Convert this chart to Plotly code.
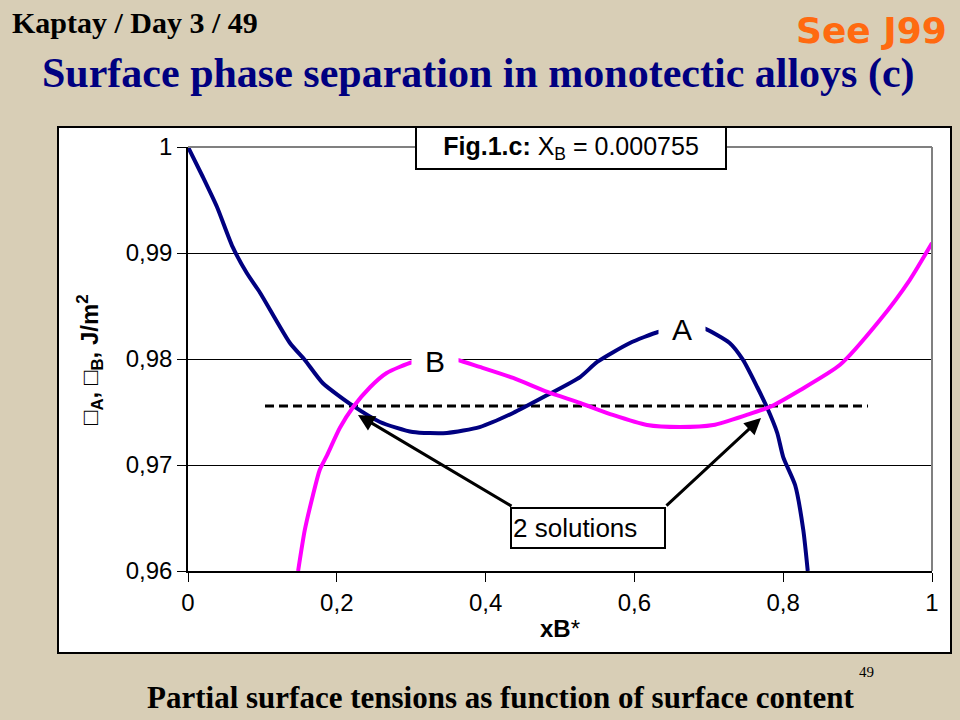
import plotly.graph_objects as go

# ---- data ----
xa = [0, 0.020, 0.039, 0.060, 0.079, 0.097, 0.137, 0.157, 0.181, 0.222, 0.258, 0.302,
      0.348, 0.392, 0.437, 0.483, 0.527, 0.550, 0.594, 0.632, 0.661, 0.692, 0.728,
      0.746, 0.765, 0.778, 0.792, 0.800, 0.816, 0.827, 0.833]
sigma_a = [1.0, 0.99717, 0.99434, 0.99057, 0.98811, 0.98623, 0.98151, 0.97991, 0.97774,
           0.97557, 0.97406, 0.97311, 0.97302, 0.97358, 0.97491, 0.97660, 0.97830,
           0.97972, 0.98151, 0.98255, 0.98292, 0.98292, 0.98151, 0.97991, 0.97736,
           0.97547, 0.97302, 0.97075, 0.96811, 0.96387, 0.96]

xb = [0.148, 0.157, 0.168, 0.177, 0.187, 0.204, 0.222, 0.245, 0.267, 0.302, 0.332, 0.362,
      0.392, 0.437, 0.483, 0.527, 0.571, 0.617, 0.661, 0.706, 0.751, 0.782, 0.823,
      0.876, 0.930, 0.970, 1.0]
sigma_b = [0.96, 0.96387, 0.96717, 0.96953, 0.97094, 0.97349, 0.97547, 0.97736, 0.97868,
           0.97972, 0.98009, 0.97991, 0.97925, 0.97821, 0.97689, 0.97585, 0.97472,
           0.97377, 0.97358, 0.97377, 0.97472, 0.97547, 0.97708, 0.97943, 0.98368,
           0.98745, 0.99094]

x_dash = [0.1035, 0.914]
y_dash = [0.97557, 0.97557]

x_ticks = [0, 0.2, 0.4, 0.6, 0.8, 1]
y_ticks = [0.96, 0.97, 0.98, 0.99, 1]

# solutions (arrow heads) and label box
sol_x = [0.2285, 0.7702]
sol_y = [0.97472, 0.97443]
tail_x = [0.4368, 0.6411]
tail_y = [0.96604, 0.96604]

BG = "#D8CEB6"
L, R, T, B = 188, 28, 147, 149
PW, PH = 960 - L - R, 720 - T - B


def px(p):
    return (p - L) / PW


def py(p):
    return (720 - B - p) / PH


fig = go.Figure()
fig.add_trace(go.Scatter(x=x_dash, y=y_dash, mode="lines",
                         line=dict(color="black", width=3, dash="9px,5px"),
                         hoverinfo="skip", showlegend=False))
fig.add_trace(go.Scatter(x=xa, y=sigma_a, mode="lines",
                         line=dict(color="#000080", width=4, shape="spline", smoothing=0.6),
                         showlegend=False))
fig.add_trace(go.Scatter(x=xb, y=sigma_b, mode="lines",
                         line=dict(color="#FF00FF", width=4, shape="spline", smoothing=0.6),
                         showlegend=False))

SANS = "Liberation Sans, Arial"
SERIF = "Liberation Serif, Times New Roman"
ann = []
# curve labels with white boxes hiding the curves
ann.append(dict(x=0.664, y=0.98283, xref="x", yref="y", text="A", showarrow=False,
                xanchor="center", yanchor="middle",
                font=dict(family=SANS, size=30, color="black"),
                bgcolor="white", width=44, height=30))
ann.append(dict(x=0.332, y=0.97981, xref="x", yref="y", text="B", showarrow=False,
                xanchor="center", yanchor="middle",
                font=dict(family=SANS, size=30, color="black"),
                bgcolor="white", width=44, height=30))
# arrows
for hx, hy, tx, ty in zip(sol_x, sol_y, tail_x, tail_y):
    ann.append(dict(x=hx, y=hy, xref="x", yref="y", ax=tx, ay=ty, axref="x", ayref="y",
                    text="", showarrow=True, arrowhead=2, arrowsize=1.1, arrowwidth=3,
                    arrowcolor="black", standoff=0))
ann.append(dict(x=0.5376, y=0.96406, xref="x", yref="y", text="2 solutions", showarrow=False,
                font=dict(family=SANS, size=26, color="black"),
                bgcolor="white", bordercolor="black", borderwidth=2, width=150, height=36,
                align="left", xanchor="center", yanchor="middle"))
# figure tag box
ann.append(dict(x=px(571), y=py(148), xref="paper", yref="paper",
                xanchor="center", yanchor="middle",
                text="<b>Fig.1.c:</b> X<sub>B</sub> = 0.000755", showarrow=False,
                font=dict(family=SANS, size=25, color="black"),
                bgcolor="white", bordercolor="black", borderwidth=2, width=306, height=38))
# axis titles
ann.append(dict(x=px(90), y=py(360), xref="paper", yref="paper",
                xanchor="center", yanchor="middle",
                text="<b>\u25a1<sub>A</sub>, \u25a1<sub>B</sub>, J/m<sup>2</sup></b>",
                textangle=-90, showarrow=False,
                font=dict(family=SANS, size=24, color="black")))
ann.append(dict(x=px(560), y=py(628), xref="paper", yref="paper",
                xanchor="center", yanchor="middle",
                text="<b>xB</b>*", showarrow=False,
                font=dict(family=SANS, size=24, color="black")))
# slide texts
ann.append(dict(x=px(10), y=py(22), xref="paper", yref="paper", xanchor="left", yanchor="middle",
                text="<b>Kaptay / Day 3 / 49</b>", showarrow=False,
                font=dict(family=SERIF, size=30, color="black")))
ann.append(dict(x=px(949), y=py(30), xref="paper", yref="paper", xanchor="right", yanchor="middle",
                text="<b>See J99</b>", showarrow=False,
                font=dict(family="DejaVu Sans, Verdana", size=36, color="#FF6A10")))
ann.append(dict(x=px(478), y=py(73), xref="paper", yref="paper", xanchor="center", yanchor="middle",
                text="<b>Surface phase separation in monotectic alloys (c)</b>", showarrow=False,
                font=dict(family=SERIF, size=42, color="#000080")))
ann.append(dict(x=px(501), y=py(697), xref="paper", yref="paper", xanchor="center", yanchor="middle",
                text="<b>Partial surface tensions as function of surface content</b>",
                showarrow=False,
                font=dict(family=SERIF, size=31, color="black")))
ann.append(dict(x=px(866), y=py(672), xref="paper", yref="paper", xanchor="center", yanchor="middle",
                text="49", showarrow=False,
                font=dict(family=SERIF, size=15, color="black")))

shapes = [
    dict(type="rect", xref="paper", yref="paper", x0=px(58), x1=px(951), y0=py(653), y1=py(127),
         fillcolor="white", line=dict(color="black", width=2), layer="below"),
    dict(type="line", xref="paper", yref="paper", x0=0, x1=1, y0=1, y1=1,
         line=dict(color="#808080", width=2), layer="above"),
    dict(type="line", xref="paper", yref="paper", x0=1, x1=1, y0=0, y1=1,
         line=dict(color="#808080", width=2), layer="above"),
]

fig.update_layout(
    width=960, height=720,
    margin=dict(l=L, r=R, t=T, b=B),
    paper_bgcolor=BG, plot_bgcolor="white",
    separators=", ",
    annotations=ann, shapes=shapes,
    xaxis=dict(range=[0, 1], tickvals=x_ticks, showgrid=False, zeroline=False,
               showline=True, linecolor="black", linewidth=1.5,
               ticks="outside", ticklen=9, tickcolor="black", tickwidth=1,
               tickfont=dict(family=SANS, size=24, color="black")),
    yaxis=dict(range=[0.96, 1], tickvals=y_ticks, showgrid=True, gridcolor="black", gridwidth=1,
               zeroline=False, showline=True, linecolor="black", linewidth=1.5,
               ticks="outside", ticklen=9, tickcolor="black", tickwidth=1,
               tickfont=dict(family=SANS, size=24, color="black")),
)

fig.write_html(
    "out.html",
    config={"displayModeBar": False},
    post_script="document.body.style.margin='0';document.body.style.overflow='hidden';"
                "document.body.style.background='" + BG + "';",
)
